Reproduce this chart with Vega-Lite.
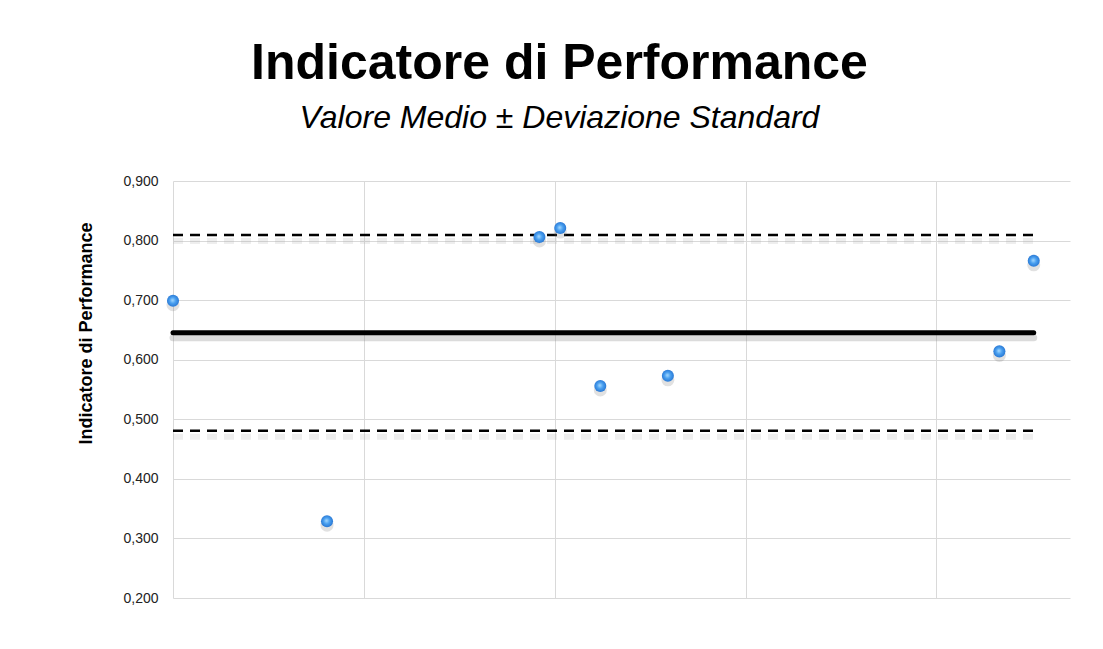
{
  "$schema": "https://vega.github.io/schema/vega-lite/v6.json",
  "width": 897,
  "height": 417,
  "autosize": {"type": "none"},
  "padding": {"left": 173, "top": 181, "right": 33, "bottom": 51},
  "background": "white",
  "title": {
    "text": "Indicatore di Performance",
    "subtitle": "Valore Medio ± Deviazione Standard",
    "anchor": "middle",
    "dx": -62,
    "offset": 40,
    "font": "Liberation Sans",
    "fontSize": 50,
    "fontWeight": "bold",
    "color": "black",
    "subtitleFont": "Liberation Sans",
    "subtitleFontSize": 32,
    "subtitleFontStyle": "italic",
    "subtitleColor": "black",
    "subtitlePadding": 14
  },
  "config": {
    "locale": {"number": {"decimal": ",", "thousands": ".", "grouping": [3], "currency": ["€", ""]}},
    "view": {"stroke": null}
  },
  "datasets": {
    "points": [
      {"pos": 0.0, "valore": 0.699},
      {"pos": 0.807, "valore": 0.329},
      {"pos": 1.92, "valore": 0.806},
      {"pos": 2.029, "valore": 0.821},
      {"pos": 2.239, "valore": 0.556},
      {"pos": 2.593, "valore": 0.573},
      {"pos": 4.33, "valore": 0.614},
      {"pos": 4.51, "valore": 0.766}
    ],
    "mean": [
      {"pos": 0.0, "valore": 0.6454},
      {"pos": 4.51, "valore": 0.6454}
    ],
    "bands": [
      {"pos": 0.0, "valore": 0.8094, "linea": "media + ds"},
      {"pos": 4.51, "valore": 0.8094, "linea": "media + ds"},
      {"pos": 0.0, "valore": 0.4809, "linea": "media - ds"},
      {"pos": 4.51, "valore": 0.4809, "linea": "media - ds"}
    ]
  },
  "encoding": {
    "x": {
      "field": "pos",
      "type": "quantitative",
      "scale": {"domain": [0, 4.7], "nice": false, "zero": false},
      "axis": {
        "values": [0, 1, 2, 3, 4],
        "labels": false,
        "ticks": false,
        "domain": false,
        "title": null,
        "grid": true,
        "gridColor": "#d9d9d9",
        "gridWidth": 1
      }
    },
    "y": {
      "field": "valore",
      "type": "quantitative",
      "scale": {"domain": [0.2, 0.9], "nice": false, "zero": false},
      "axis": {
        "values": [0.2, 0.3, 0.4, 0.5, 0.6, 0.7, 0.8, 0.9],
        "format": ".3f",
        "title": "Indicatore di Performance",
        "titleFont": "Liberation Sans",
        "titleFontSize": 18,
        "titleFontWeight": "bold",
        "titleColor": "black",
        "titleY": 152,
        "titleX": -78,
        "titleAngle": -90,
        "titleAlign": "center",
        "titleBaseline": "bottom",
        "labelFont": "Liberation Sans",
        "labelFontSize": 14,
        "labelColor": "#222222",
        "labelPadding": 15,
        "ticks": false,
        "domain": false,
        "grid": true,
        "gridColor": "#d9d9d9",
        "gridWidth": 1
      }
    }
  },
  "layer": [
    {
      "data": {"name": "mean"},
      "mark": {"type": "line", "color": "#888888", "opacity": 0.3, "strokeWidth": 7, "yOffset": 5, "strokeCap": "round"},
      "encoding": {}
    },
    {
      "data": {"name": "mean"},
      "mark": {"type": "line", "color": "black", "strokeWidth": 5, "strokeCap": "round"},
      "encoding": {}
    },
    {
      "data": {"name": "bands"},
      "mark": {"type": "line", "color": "#aaaaaa", "opacity": 0.2, "strokeWidth": 6, "yOffset": 6, "strokeDash": [10, 7]},
      "encoding": {"detail": {"field": "linea"}}
    },
    {
      "data": {"name": "bands"},
      "mark": {"type": "line", "color": "black", "strokeWidth": 2.5, "strokeDash": [10, 7]},
      "encoding": {"detail": {"field": "linea"}}
    },
    {
      "data": {"name": "points"},
      "mark": {"type": "circle", "size": 170, "color": "#777777", "opacity": 0.22, "yOffset": 4},
      "encoding": {}
    },
    {
      "data": {"name": "points"},
      "mark": {
        "type": "circle",
        "size": 145,
        "opacity": 1,
        "fill": {
          "gradient": "radial",
          "x1": 0.45, "y1": 0.45, "r1": 0,
          "x2": 0.5, "y2": 0.5, "r2": 0.55,
          "stops": [
            {"offset": 0, "color": "#a9dbff"},
            {"offset": 0.45, "color": "#4aa0f0"},
            {"offset": 1, "color": "#2472d0"}
          ]
        }
      },
      "encoding": {}
    }
  ]
}
